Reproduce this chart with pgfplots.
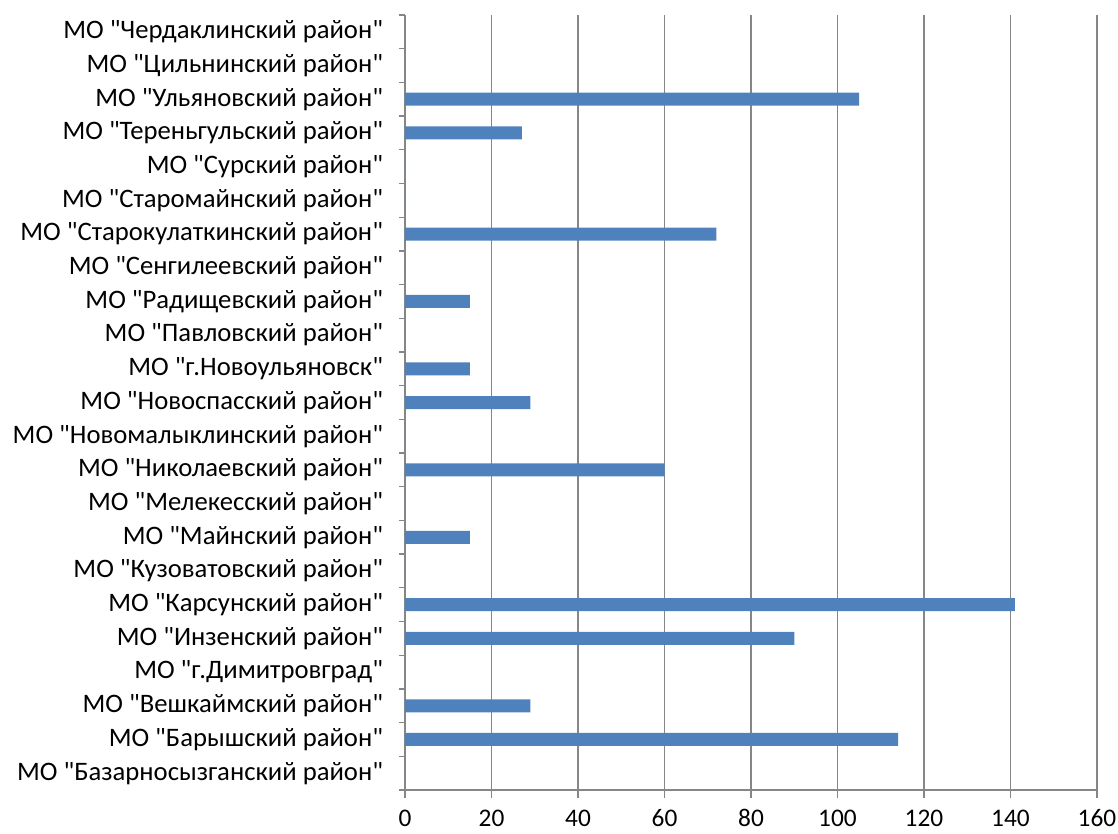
\documentclass[border=0pt]{standalone}
\usepackage{fontspec}
\setmainfont{Carlito}[Ligatures=TeXOff]
\usepackage{pgfplots}
\pgfplotsset{compat=1.18}
\definecolor{barblue}{HTML}{4F81BD}
\definecolor{gridgray}{HTML}{868686}
\begin{document}
\begin{tikzpicture}
\useasboundingbox (0,0) rectangle (838.5pt,624.75pt);
\begin{axis}[
  at={(303.75pt,32.25pt)}, anchor=south west,
  scale only axis, width=519pt, height=581.25pt,
  xbar, bar width=9.75pt,
  xmin=0, xmax=160, ymin=-0.5, ymax=22.5,
  xtick={0,20,...,160},
  ytick={0,...,22},
  minor ytick={-0.5,0.5,...,22.5},
  axis x line*=bottom, axis y line*=left,
  axis line style={gridgray, line width=1pt},
  xmajorgrids, major grid style={gridgray, line width=1pt},
  major tick style={gridgray, line width=1pt},
  minor tick style={gridgray, line width=1pt},
  xtick align=outside, ytick align=outside,
  major tick length=6pt, minor tick length=4.5pt,
  y tick style={draw=none},
  minor y tick style={draw=gridgray},
  /pgf/number format/assume math mode=true,
  xticklabel style={font=\fontsize{19}{22}\selectfont, anchor=north, text height=13pt, text depth=0pt, inner sep=1pt, yshift=-7pt},
  yticklabel style={font=\fontsize{20}{24}\selectfont, anchor=east, xshift=-7pt},
  yticklabels={
    {МО "Базарносызганский район"},
    {МО "Барышский район"},
    {МО "Вешкаймский район"},
    {МО "г.Димитровград"},
    {МО "Инзенский район"},
    {МО "Карсунский район"},
    {МО "Кузоватовский район"},
    {МО "Майнский район"},
    {МО "Мелекесский район"},
    {МО "Николаевский район"},
    {МО "Новомалыклинский район"},
    {МО "Новоспасский район"},
    {МО "г.Новоульяновск"},
    {МО "Павловский район"},
    {МО "Радищевский район"},
    {МО "Сенгилеевский район"},
    {МО "Старокулаткинский район"},
    {МО "Старомайнский район"},
    {МО "Сурский район"},
    {МО "Тереньгульский район"},
    {МО "Ульяновский район"},
    {МО "Цильнинский район"},
    {МО "Чердаклинский район"}
  },
]
\addplot[fill=barblue, draw=none] coordinates {
  (0,0) (114,1) (29,2) (0,3) (90,4) (141,5) (0,6) (15,7) (0,8) (60,9)
  (0,10) (29,11) (15,12) (0,13) (15,14) (0,15) (72,16) (0,17) (0,18)
  (27,19) (105,20) (0,21) (0,22)
};
\end{axis}
\end{tikzpicture}
\end{document}
